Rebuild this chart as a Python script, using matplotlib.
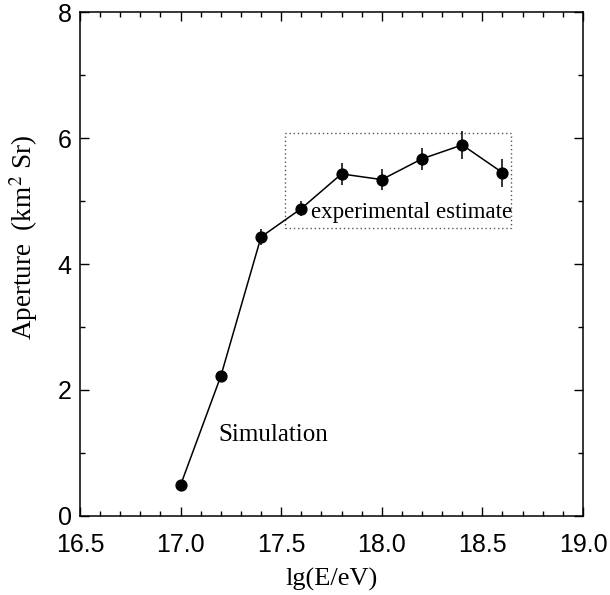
import matplotlib
matplotlib.use("Agg")
import matplotlib.pyplot as plt
from matplotlib.patches import Rectangle
from matplotlib.ticker import MultipleLocator, FormatStrFormatter

plt.rcParams["mathtext.fontset"] = "stix"

# aperture vs. energy
lg_energy = [17.0, 17.2, 17.4, 17.6, 17.8, 18.0, 18.2, 18.4, 18.6]
aperture = [0.49, 2.22, 4.43, 4.88, 5.43, 5.34, 5.67, 5.89, 5.45]
aperture_err = [0.0, 0.0, 0.13, 0.12, 0.18, 0.17, 0.17, 0.22, 0.22]

# region covered by the experimental estimate
box_x = [17.52, 18.64]
box_y = [4.57, 6.08]

fig = plt.figure(figsize=(6.1, 5.95), dpi=100)
ax = fig.add_axes([0.1311, 0.1328, 0.8246, 0.847])

ax.errorbar(lg_energy, aperture, yerr=aperture_err, fmt="-o", color="black",
            ms=7.8, lw=1.1, elinewidth=1.1, capsize=0)

ax.add_patch(Rectangle((box_x[0], box_y[0]), box_x[1] - box_x[0],
                       box_y[1] - box_y[0], fill=False, ls=(0, (1, 2)),
                       lw=1.0, edgecolor="#555555"))

serif = "Liberation Serif"
ax.text(17.65, 4.82, "experimental estimate", family=serif, fontsize=16.5,
        va="center", ha="left")
ax.text(17.19, 1.28, "Simulation", family=serif, fontsize=18,
        va="center", ha="left")

ax.set_xlim(16.5, 19.0)
ax.set_ylim(0, 8)
ax.xaxis.set_major_locator(MultipleLocator(0.5))
ax.xaxis.set_minor_locator(MultipleLocator(0.1))
ax.yaxis.set_major_locator(MultipleLocator(2))
ax.yaxis.set_minor_locator(MultipleLocator(1))
ax.xaxis.set_major_formatter(FormatStrFormatter("%.1f"))
ax.tick_params(which="both", direction="in", top=True, right=True,
               labelsize=18, width=1)
ax.tick_params(which="major", length=6.5)
ax.tick_params(which="minor", length=3.5)
ax.tick_params(axis="x", pad=12)
ax.tick_params(axis="y", pad=6)
for lab in ax.get_xticklabels() + ax.get_yticklabels():
    lab.set_family("Liberation Sans")

for sp in ax.spines.values():
    sp.set_linewidth(1.1)

ax.set_xlabel("lg(E/eV)", family=serif, fontsize=19, labelpad=8)
ax.set_ylabel("Aperture  (km$^2$ Sr)", family=serif, fontsize=19.5)
ax.yaxis.set_label_coords(-0.08, 0.553)

fig.savefig("out.png", dpi=100)
